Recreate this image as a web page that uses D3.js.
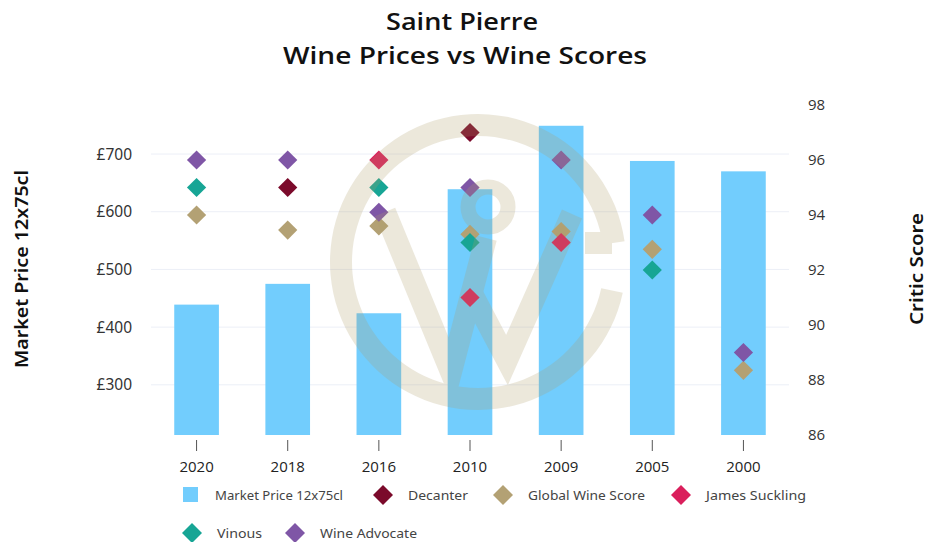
<!DOCTYPE html>
<html>
<head>
<meta charset="utf-8">
<script src="https://cdn.jsdelivr.net/npm/d3@7"></script>
<style>
  body { margin: 0; background: #fff; }
  text { font-family: "Open Sans", "Noto Sans", sans-serif; }
</style>
</head>
<body>
<div id="chart"></div>
<script>
const vintages = ["2020", "2018", "2016", "2010", "2009", "2005", "2000"];
const marketPrice = [439, 475, 424, 639, 749, 688, 670];

const decanter = [null, 95, null, 97, null, null, null];
const globalWineScore = [94, 93.45, 93.6, 93.3, 93.4, 92.75, 88.35];
const jamesSuckling = [null, null, 96, 91, 93, null, null];
const vinous = [95, null, 95, 93, null, 92, null];
const wineAdvocate = [96, 96, 94.1, 95, 96, 94, 89];

const priceTicks = [300, 400, 500, 600, 700];
const scoreTicks = [86, 88, 90, 92, 94, 96, 98];

const critics = [
    { name: "Decanter", values: decanter, color: "#7b0a2b" },
    { name: "Global Wine Score", values: globalWineScore, color: "#b3a174" },
    { name: "James Suckling", values: jamesSuckling, color: "#da1f5c" },
    { name: "Vinous", values: vinous, color: "#17a595" },
    { name: "Wine Advocate", values: wineAdvocate, color: "#7f56a6" }
];

const width = 927, height = 542;
const plot = { left: 151, right: 789, top: 105, bottom: 435 };
const barColor = "#72cdfd";

const svg = d3.select("#chart").append("svg")
    .attr("width", width)
    .attr("height", height);

const x = d3.scaleBand().domain(vintages).range([plot.left, plot.right]).padding(0);
const yPrice = d3.scaleLinear().domain([213, 785]).range([plot.bottom, plot.top]);
const yScore = d3.scaleLinear().domain([86, 98]).range([plot.bottom, plot.top]);

// title
const title = svg.append("g")
    .style("font-family", "'Noto Sans', 'Open Sans', sans-serif")
    .style("font-size", "24px")
    .style("font-weight", "600")
    .style("fill", "#111");
title.append("text").attr("x", 386).attr("y", 30)
    .attr("textLength", 152).attr("lengthAdjust", "spacingAndGlyphs")
    .text("Saint Pierre");
title.append("text").attr("x", 283).attr("y", 64)
    .attr("textLength", 364).attr("lengthAdjust", "spacingAndGlyphs")
    .text("Wine Prices vs Wine Scores");

// grid lines
svg.append("g")
    .selectAll("line")
    .data(priceTicks)
    .enter().append("line")
    .attr("x1", plot.left).attr("x2", plot.right)
    .attr("y1", d => yPrice(d)).attr("y2", d => yPrice(d))
    .style("stroke", "#eceff7")
    .style("stroke-width", 1);

// left axis
const leftAxis = svg.append("g")
    .attr("transform", `translate(${plot.left - 19},0)`)
    .call(d3.axisLeft(yPrice).tickValues(priceTicks).tickFormat(d => "£" + d).tickSize(0));
leftAxis.select(".domain").remove();
leftAxis.selectAll("text")
    .attr("x", 0)
    .style("font-family", "'Noto Sans', sans-serif")
    .style("font-size", "15.5px")
    .style("fill", "#333");

// right axis
const rightAxis = svg.append("g")
    .attr("transform", `translate(${plot.right + 19},0)`)
    .call(d3.axisRight(yScore).tickValues(scoreTicks).tickSize(0));
rightAxis.select(".domain").remove();
rightAxis.selectAll("text")
    .attr("x", 0)
    .style("font-size", "15px")
    .style("fill", "#333");

// x axis
const bottomAxis = svg.append("g")
    .attr("transform", `translate(0,${plot.bottom + 5})`)
    .call(d3.axisBottom(x).tickSize(11).tickPadding(10));
bottomAxis.select(".domain").remove();
bottomAxis.selectAll("line").style("stroke", "#555");
bottomAxis.selectAll("text")
    .style("font-size", "15px")
    .style("fill", "#222");

// axis titles
svg.append("text")
    .attr("transform", "translate(28,269) rotate(-90)")
    .attr("x", -99)
    .attr("textLength", 198).attr("lengthAdjust", "spacingAndGlyphs")
    .style("font-family", "'Noto Sans', sans-serif")
    .style("font-size", "18px")
    .style("font-weight", "600")
    .style("fill", "#111")
    .text("Market Price 12x75cl");

svg.append("text")
    .attr("transform", "translate(923,269) rotate(-90)")
    .attr("x", -56)
    .attr("textLength", 112).attr("lengthAdjust", "spacingAndGlyphs")
    .style("font-family", "'Noto Sans', sans-serif")
    .style("font-size", "18px")
    .style("font-weight", "600")
    .style("fill", "#111")
    .text("Critic Score");

// bars
const barW = x.bandwidth() * 0.49;
svg.append("g")
    .selectAll("rect")
    .data(vintages.map((v, i) => ({ vintage: v, price: marketPrice[i] })))
    .enter().append("rect")
    .attr("x", d => x(d.vintage) + (x.bandwidth() - barW) / 2)
    .attr("width", barW)
    .attr("y", d => yPrice(d.price))
    .attr("height", d => plot.bottom - yPrice(d.price))
    .style("fill", barColor);

// critic diamonds
const diamond = d3.symbol().type(d3.symbolSquare).size(185);
critics.forEach(c => {
    svg.append("g")
        .selectAll("path")
        .data(vintages.map((v, i) => ({ vintage: v, score: c.values[i] })).filter(d => d.score != null))
        .enter().append("path")
        .attr("d", diamond)
        .attr("transform", d => `translate(${x(d.vintage) + x.bandwidth() / 2},${yScore(d.score)}) rotate(45)`)
        .style("fill", c.color);
});

// watermark logo
const wm = svg.append("g")
    .style("opacity", 0.23)
    .style("fill", "none")
    .style("stroke", "#ae9d69")
    .style("stroke-width", 22);
const cx = 478, cy = 262, r = 137;
const arc = d3.arc().innerRadius(r - 11).outerRadius(r + 11)
    .startAngle(Math.PI / 2 + 0.21).endAngle(Math.PI / 2 + 2 * Math.PI - 0.14);
wm.append("path")
    .attr("d", arc())
    .attr("transform", `translate(${cx},${cy})`)
    .style("fill", "#ae9d69")
    .style("stroke", "none");
wm.append("path").attr("d", "M585,243 L612,243");
wm.append("path").attr("d", "M385,212 L451,372 L486,238");
wm.append("path").attr("d", "M470,290 L507,360 L572,214");
wm.append("circle").attr("cx", 488).attr("cy", 207).attr("r", 20).style("stroke-width", 15);

// legend
const legendItems = [
    { name: "Market Price 12x75cl", color: barColor, shape: "square", x: 190, y: 495, w: 128 },
    { name: "Decanter", color: critics[0].color, shape: "diamond", x: 383, y: 495, w: 60 },
    { name: "Global Wine Score", color: critics[1].color, shape: "diamond", x: 503, y: 495, w: 117 },
    { name: "James Suckling", color: critics[2].color, shape: "diamond", x: 681, y: 495, w: 100 },
    { name: "Vinous", color: critics[3].color, shape: "diamond", x: 192, y: 533, w: 45 },
    { name: "Wine Advocate", color: critics[4].color, shape: "diamond", x: 295, y: 533, w: 97 }
];

const legend = svg.append("g");
const items = legend.selectAll("g")
    .data(legendItems)
    .enter().append("g")
    .attr("transform", d => `translate(${d.x},${d.y})`);

items.filter(d => d.shape === "square").append("rect")
    .attr("x", -7).attr("y", -8).attr("width", 15).attr("height", 15)
    .style("fill", d => d.color);

items.filter(d => d.shape === "diamond").append("path")
    .attr("d", d3.symbol().type(d3.symbolSquare).size(200))
    .attr("transform", "rotate(45)")
    .style("fill", d => d.color);

items.append("text")
    .attr("x", 25)
    .attr("dy", "0.35em")
    .attr("textLength", d => d.w).attr("lengthAdjust", "spacingAndGlyphs")
    .style("font-family", "'Noto Sans', sans-serif")
    .style("font-size", "13px")
    .style("fill", "#444")
    .text(d => d.name);
</script>
</body>
</html>
